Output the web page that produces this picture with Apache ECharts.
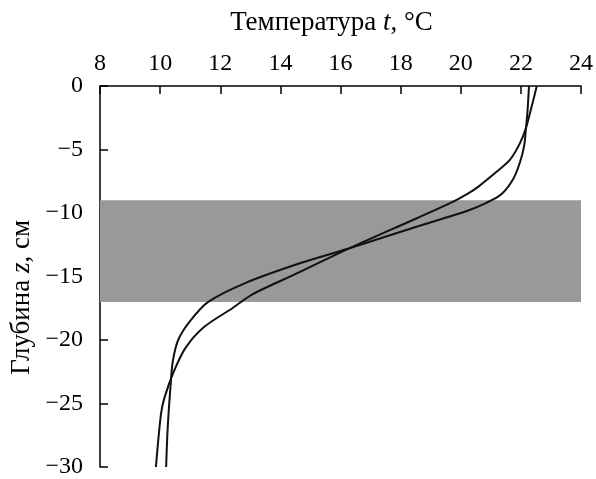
<!DOCTYPE html>
<html>
<head>
<meta charset="utf-8">
<title>Температура</title>
<script src="https://cdn.jsdelivr.net/npm/echarts@6/dist/echarts.min.js"></script>
<style>
  html, body { margin: 0; padding: 0; background: #fff; }
  #chart { width: 596px; height: 479px; }
</style>
</head>
<body>
<div id="chart"></div>
<script>
// profile 1 (starts at ~22.3 at the surface)
var tempA  = [22.27, 22.22, 22.17, 22.11, 21.97, 21.75, 21.36, 20.85, 20.25, 18.5, 16.27, 14.6, 12.85, 11.6, 11.0, 10.6, 10.42, 10.35, 10.25, 10.2];
var depthA = [0, -2, -3.3, -4.7, -6.0, -7.3, -8.5, -9.2, -9.8, -11.1, -12.8, -14.0, -15.5, -17.0, -18.5, -20.0, -21.7, -23.5, -27.0, -30];
// profile 2 (starts at ~22.5 at the surface)
var tempB  = [22.53, 22.35, 22.17, 21.97, 21.64, 21.17, 20.6, 20.25, 19.75, 18.5, 16.27, 14.6, 13.07, 12.4, 11.45, 10.85, 10.47, 10.15, 10.03, 9.86];
var depthB = [0, -1.7, -3.3, -4.5, -5.8, -6.8, -7.9, -8.45, -9.1, -10.45, -12.8, -14.7, -16.4, -17.5, -19.0, -20.6, -22.4, -24.5, -25.8, -30];
// shaded layer
var layerTop = -9;
var layerBottom = -17;
var xTicks = { min: 8, max: 24, step: 2 };
var yTicks = { min: -30, max: 0, step: 5 };

function pairs(xs, ys) {
    var out = [];
    for (var i = 0; i < xs.length; i++) out.push([xs[i], ys[i]]);
    return out;
}

var FONT = 'Liberation Serif';
var chart = echarts.init(document.getElementById('chart'));

var axisCommon = {
    type: 'value',
    axisLine: { show: true, lineStyle: { color: '#000', width: 1.5 } },
    axisTick: { show: true, inside: true, length: 8, lineStyle: { color: '#000', width: 1.5 } },
    splitLine: { show: false },
    axisLabel: {
        color: '#000', fontFamily: FONT, fontSize: 24,
        formatter: function (v) { return String(v).replace('-', '\u2212'); }
    }
};

chart.setOption({
    animation: false,
    grid: { left: 100, top: 86, right: 12, bottom: 8 },
    xAxis: echarts.util.merge({
        position: 'top',
        min: xTicks.min, max: xTicks.max, interval: xTicks.step,
        axisLabel: { margin: 10 },
        name: '{n|Температура }{i|t}{n|, °C}',
        nameLocation: 'middle',
        nameGap: 50,
        nameTextStyle: {
            padding: [0, 18, 0, 0],
            rich: {
                n: { fontFamily: FONT, fontSize: 27, color: '#000' },
                i: { fontFamily: FONT, fontSize: 27, fontStyle: 'italic', color: '#000' }
            }
        }
    }, axisCommon, true),
    yAxis: echarts.util.merge({
        min: yTicks.min, max: yTicks.max, interval: yTicks.step,
        axisLabel: { margin: 17 }
    }, axisCommon, true),
    graphic: [{
        type: 'text',
        left: 8, top: 220,
        rotation: Math.PI / 2,
        style: {
            text: '{n|Глубина }{i|z}{n|, см}',
            rich: {
                n: { fontFamily: FONT, fontSize: 27, fill: '#000' },
                i: { fontFamily: FONT, fontSize: 27, fontStyle: 'italic', fill: '#000' }
            }
        }
    }],
    series: [{
        type: 'line',
        data: [],
        markArea: {
            silent: true,
            itemStyle: { color: '#999999' },
            data: [[{ yAxis: layerTop }, { yAxis: layerBottom }]]
        }
    }, {
        type: 'line',
        data: pairs(tempA, depthA),
        smooth: 0.3,
        symbol: 'none',
        lineStyle: { color: '#111', width: 2 },
        z: 5
    }, {
        type: 'line',
        data: pairs(tempB, depthB),
        smooth: 0.3,
        symbol: 'none',
        lineStyle: { color: '#111', width: 2 },
        z: 5
    }]
});
</script>
</body>
</html>
